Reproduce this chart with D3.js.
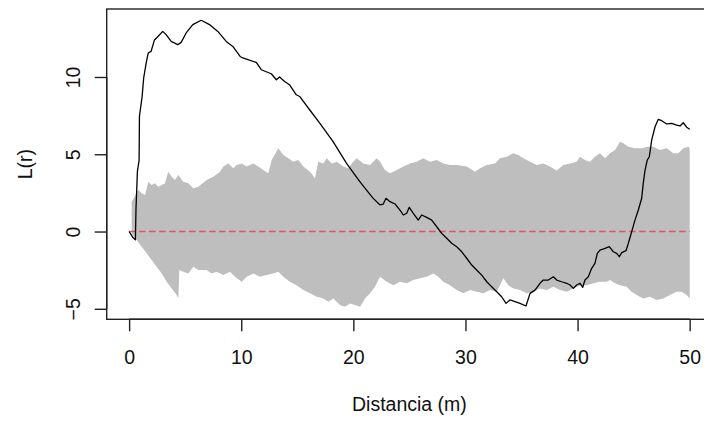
<!DOCTYPE html>
<html>
<head>
<meta charset="utf-8">
<script src="https://cdn.jsdelivr.net/npm/d3@7"></script>
<style>
  html, body { margin: 0; padding: 0; background: #fff; }
  svg { display: block; }
  text { font-family: "Liberation Sans", Arial, sans-serif; fill: #111; }
</style>
</head>
<body>
<svg id="chart" width="704" height="421"></svg>
<script>
// ---- data ----
const xTicks = [0, 10, 20, 30, 40, 50];
const yTicks = [-5, 0, 5, 10];

// observed L(r)
const rObs = [0, 0.3, 0.56, 0.61, 0.74, 0.89, 0.92, 1.16, 1.30, 1.52, 1.70, 1.96, 2.26, 2.55, 3.0, 3.30, 3.75, 4.34, 4.64, 5.09, 5.68, 6.43, 7.17, 7.91, 8.66, 9.25, 9.9, 10.14, 11.34, 11.79, 12.68, 13.13, 13.42, 13.87, 14.3, 14.91, 15.21, 16.10, 17.0, 18.18, 19.38, 20.56, 21.75,
  22.38, 22.67, 22.91, 23.27, 23.72, 24.16, 24.46, 24.76, 24.99, 25.35, 25.79, 26.1, 26.54, 26.99, 27.44, 27.88, 28.33, 28.77, 29.22, 29.67, 30.11, 30.56, 31.0, 31.45, 31.9, 32.34, 32.79, 33.23, 33.62, 33.97, 34.42, 34.87, 35.4, 35.76, 36.2, 36.65, 36.94, 37.39, 37.84, 38.14, 38.58, 39.03, 39.33, 39.62, 39.92, 40.22, 40.46, 40.66, 40.96, 41.26, 41.55, 41.76, 42.0, 42.45, 42.83, 43.19, 43.49, 43.72, 43.94, 44.32, 44.53, 44.83, 45.12, 45.42, 45.72, 45.86, 46.02, 46.22, 46.4, 46.61, 46.91, 47.2, 47.51, 47.95, 48.4, 48.84, 49.14, 49.43, 49.73, 50.0];
const lObs = [0, -0.35, -0.54, 1.4, 3.9, 4.6, 7.45, 8.74, 9.95, 10.9, 11.55, 11.66, 12.4, 12.6, 12.95, 12.74, 12.3, 12.09, 12.24, 12.85, 13.39, 13.67, 13.39, 12.95, 12.3, 11.98, 11.33, 11.23, 10.94, 10.47, 10.21, 9.82, 10.0, 9.71, 9.5, 8.85, 8.74, 7.88, 7.02, 5.83, 4.43, 3.24, 2.16,
  1.72, 1.78, 2.15, 1.93, 1.78, 1.39, 1.07, 1.18, 1.57, 1.18, 0.74, 1.07, 0.92, 0.74, 0.31, -0.12, -0.44, -0.76, -0.98, -1.31, -1.73, -2.17, -2.49, -2.82, -3.25, -3.57, -3.9, -4.22, -4.65, -4.43, -4.54, -4.65, -4.82, -4.0, -3.79, -3.35, -3.14, -3.14, -2.93, -3.14, -3.25, -3.35, -3.46, -3.68, -3.46, -3.35, -3.61, -3.14, -2.93, -2.38, -2.06, -1.41, -1.2, -1.09, -0.98, -1.31, -1.41, -1.63, -1.37, -1.24, -0.76, -0.01, 0.74, 1.39, 2.15, 3.12, 3.98, 4.63, 4.84, 5.92, 6.78, 7.26, 7.17, 6.96, 7.0, 6.89, 6.83, 7.04, 6.75, 6.62];

// upper envelope
const rHi = [0.23, 0.82, 1.12, 1.42, 1.71, 2.01, 2.31, 2.6, 2.91, 3.2, 3.49, 3.8, 4.09, 4.39, 4.83, 5.28, 5.72, 6.17,
  6.92, 7.51, 8.11, 8.40, 8.85, 9.29, 9.60, 10.04, 10.49, 11.08, 11.52, 11.97, 12.41, 12.72, 13.31, 13.75, 14.2, 14.64, 15.09, 15.54, 16.13, 16.58, 16.87, 17.32, 17.62, 18.07, 18.52, 19.1, 19.55, 19.85, 20.3, 20.89, 21.48, 22.08,
  22.38, 22.82, 23.27, 23.87, 24.46, 25.05, 25.65, 26.24, 26.84, 27.44, 28.02, 28.62, 29.22, 30.11, 30.85, 31.3, 31.9, 32.64, 33.08, 33.68, 34.27, 34.71, 35.16, 35.76, 36.36, 36.94, 37.54, 38.14,
  38.73, 39.33, 39.92,
  40.22, 40.66, 41.11, 41.55, 42.0, 42.45, 42.89, 43.34, 43.79, 44.08, 44.53, 45.12, 45.72, 46.31, 46.76, 47.35, 47.95, 48.54, 48.99, 49.43, 49.88, 50.0];
const hi  = [1.93, 2.69, 2.47, 2.36, 3.22, 3.01, 3.12, 2.9, 3.01, 3.12, 3.87, 3.55, 3.33, 3.66, 3.22, 3.12, 2.8, 2.9,
  3.33, 3.55, 3.87, 4.2, 4.41, 4.09, 4.3, 4.41, 4.2, 4.41, 4.2, 3.98, 3.77, 4.63, 5.39, 4.95, 4.74, 4.52, 4.63, 4.2, 3.87, 3.44, 4.52, 4.41, 4.74, 4.41, 4.52, 4.2, 4.09, 4.41, 4.74, 4.41, 4.3, 4.74,
  4.52, 3.98, 3.77, 3.98, 4.2, 4.41, 4.52, 4.74, 4.52, 4.63, 4.41, 4.3, 4.3, 4.2, 3.87, 4.09, 4.3, 4.41, 4.74, 4.84, 5.06, 4.95, 4.74, 4.52, 4.3, 4.41, 4.2, 3.95,
  4.3, 4.41, 4.52,
  4.84, 4.63, 4.52, 4.84, 5.06, 4.74, 5.06, 5.28, 5.81, 5.71, 5.49, 5.39, 5.39, 5.49, 5.49, 5.28, 5.39, 5.06, 5.06, 5.39, 5.49, 5.39];

// lower envelope
const rLo = [0.23, 0.67, 1.12, 1.56, 2.01, 2.45, 2.91, 3.35, 3.8, 4.24, 4.39, 4.48, 4.83, 5.28, 5.72, 6.17, 6.92, 7.36, 7.81, 8.40, 9.0, 9.44, 10.04, 10.49, 11.08, 11.67, 12.27, 12.86, 13.31, 13.75, 14.35, 14.94, 15.54, 16.13, 16.73, 17.32, 17.77, 18.22, 18.81, 19.26, 19.7, 20.15, 20.6, 21.04, 21.49, 21.93, 22.38, 22.97, 23.57, 24.16, 24.76, 25.35, 25.95, 26.54, 27.14, 27.58, 28.02, 28.62, 29.22, 29.81, 30.41, 31.0, 31.6, 32.19, 32.79, 33.38, 33.83, 34.27, 34.87, 35.46, 36.06, 36.65, 37.25, 37.84, 38.43, 39.03, 39.62, 40.22, 40.81, 41.41, 42.0, 42.6, 42.89, 43.34, 43.79, 44.38, 44.82, 45.27, 45.86, 46.46, 47.05, 47.65, 48.24, 48.84, 49.28, 49.73, 50.0];
const lo  = [-0.12, -0.55, -0.98, -1.41, -1.85, -2.28, -2.71, -3.25, -3.68, -4.11, -4.33, -2.49, -2.6, -2.71, -2.28, -2.49, -2.49, -2.71, -2.6, -2.82, -2.6, -2.93, -3.25, -2.93, -2.71, -2.93, -2.82, -2.71, -2.6, -2.93, -3.25, -3.47, -3.79, -4.0, -4.22, -4.33, -4.55, -4.33, -4.76, -4.87, -4.65, -4.76, -4.87, -4.33, -4.0, -3.57, -2.93, -3.25, -3.47, -3.25, -3.35, -3.14, -3.03, -2.93, -2.71, -2.93, -3.25, -3.47, -3.79, -4.0, -3.79, -3.9, -4.0, -3.79, -3.9, -3.03, -3.47, -3.68, -3.79, -4.0, -3.9, -3.68, -3.79, -3.57, -3.79, -3.9, -3.68, -3.5, -3.47, -3.35, -3.25, -3.25, -3.14, -3.35, -3.47, -3.57, -3.9, -4.11, -4.33, -4.22, -4.43, -4.33, -4.11, -3.9, -3.9, -4.11, -4.33];

// theoretical line
const rRef = [0, 50];
const lRef = [0, 0];

// ---- layout ----
const svg = d3.select("#chart");
const mLeft = 106.7, mRight = 712.1, mTop = 9, mBottom = 319.3;
const fontSize = "19.5px";

const x = d3.scaleLinear().domain([-2, 52]).range([mLeft, mRight]);
const y = d3.scaleLinear().domain([-5.68, 14.40]).range([mBottom, mTop]);

const line = d3.line().x(d => x(d[0])).y(d => y(d[1]));

// envelope polygon
const envPts = rHi.map((r, i) => [r, hi[i]])
  .concat(rLo.map((r, i) => [r, lo[i]]).reverse());
svg.append("path")
  .attr("d", line(envPts) + "Z")
  .attr("fill", "#bebebe")
  .attr("stroke", "none");

// reference dashed line
svg.append("path")
  .attr("d", line(rRef.map((r, i) => [r, lRef[i]])))
  .attr("fill", "none")
  .attr("stroke", "#df536b")
  .attr("stroke-width", 1.5)
  .attr("stroke-dasharray", "6.5,3.5");

// observed line
svg.append("path")
  .attr("d", line(rObs.map((r, i) => [r, lObs[i]])))
  .attr("fill", "none")
  .attr("stroke", "#000")
  .attr("stroke-width", 1.3)
  .attr("stroke-linejoin", "round");

// box
svg.append("rect")
  .attr("x", mLeft).attr("y", mTop)
  .attr("width", mRight - mLeft).attr("height", mBottom - mTop)
  .attr("fill", "none")
  .attr("stroke", "#222")
  .attr("stroke-width", 1.4);

// x axis
const xAxis = d3.axisBottom(x).tickValues(xTicks).tickSize(12).tickPadding(8).tickSizeOuter(0);
const gx = svg.append("g").attr("transform", `translate(0,${mBottom})`).call(xAxis);
gx.select(".domain").attr("d", `M${x(0)},0H${x(50)}`).attr("stroke", "#222").attr("stroke-width", 1.4);
gx.selectAll(".tick line").attr("stroke", "#222").attr("stroke-width", 1.4);
gx.selectAll(".tick text")
  .attr("font-size", fontSize)
  .attr("font-family", "Liberation Sans, Arial, sans-serif")
  .attr("fill", "#111")
  .attr("dy", null)
  .attr("y", 44.7);

// y axis
const yAxis = d3.axisLeft(y).tickValues(yTicks).tickSize(12).tickSizeOuter(0);
const gy = svg.append("g").attr("transform", `translate(${mLeft},0)`).call(yAxis);
gy.select(".domain").attr("d", `M0,${y(-5)}V${y(10)}`).attr("stroke", "#222").attr("stroke-width", 1.4);
gy.selectAll(".tick line").attr("stroke", "#222").attr("stroke-width", 1.4);
gy.selectAll(".tick text")
  .attr("font-size", fontSize)
  .attr("font-family", "Liberation Sans, Arial, sans-serif")
  .attr("fill", "#111")
  .attr("x", null).attr("dy", null)
  .attr("text-anchor", "middle")
  .attr("transform", "translate(-26.7,0) rotate(-90)");

// axis titles
svg.append("text")
  .attr("x", (mLeft + mRight) / 2)
  .attr("y", 410.7)
  .attr("text-anchor", "middle")
  .attr("font-size", fontSize)
  .text("Distancia (m)");

svg.append("text")
  .attr("transform", `translate(31.7,${(mTop + mBottom) / 2}) rotate(-90)`)
  .attr("text-anchor", "middle")
  .attr("font-size", fontSize)
  .text("L(r)");
</script>
</body>
</html>
